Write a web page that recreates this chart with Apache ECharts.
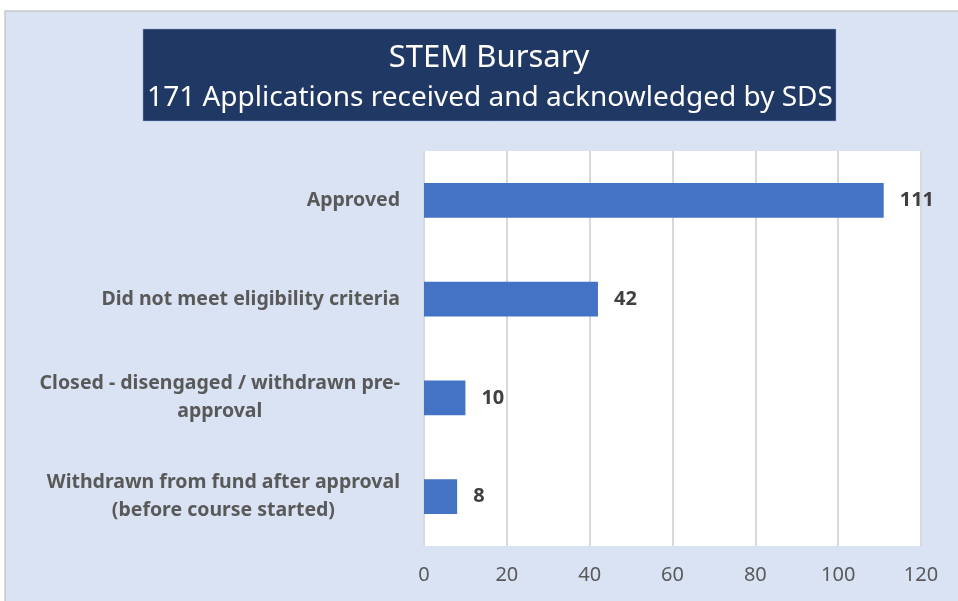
<!DOCTYPE html>
<html>
<head>
<meta charset="utf-8">
<script src="https://cdn.jsdelivr.net/npm/echarts@6/dist/echarts.min.js"></script>
<style>
  html, body { margin: 0; padding: 0; background: #fff; }
  #main { width: 958px; height: 601px; }
</style>
</head>
<body>
<div id="main"></div>
<script>
// categories from top to bottom as in the picture
var categories = [
  'Approved',
  'Did not meet eligibility criteria',
  'Closed - disengaged / withdrawn pre-\napproval',
  'Withdrawn from fund after approval\n(before course started)'
];
var counts = [111, 42, 10, 8];
var xTicks = [0, 20, 40, 60, 80, 100, 120];

var titleMain = 'STEM Bursary';
var titleSub = '171 Applications received and acknowledged by SDS';

var chart = echarts.init(document.getElementById('main'), null, { renderer: 'canvas' });
var font = 'Noto Sans';

var option = {
  backgroundColor: '#ffffff',
  animation: false,
  textStyle: { fontFamily: font },
  graphic: [
    {
      type: 'rect',
      z: -10,
      shape: { x: 5, y: 11, width: 970, height: 610 },
      style: { fill: '#dae3f3', stroke: '#c8c8c8', lineWidth: 1.5 }
    },
    {
      type: 'rect',
      z: -5,
      shape: { x: 143, y: 29, width: 693, height: 92 },
      style: { fill: '#203864', stroke: '#8faadc', lineWidth: 0.5 }
    },
    {
      type: 'text',
      x: 489, y: 58,
      style: {
        text: titleMain, fill: '#ffffff', font: '31px "' + font + '"',
        textAlign: 'center', textVerticalAlign: 'middle'
      }
    },
    {
      type: 'text',
      x: 490, y: 98,
      style: {
        text: titleSub, fill: '#ffffff', font: '28px "' + font + '"',
        textAlign: 'center', textVerticalAlign: 'middle'
      }
    }
  ],
  grid: {
    left: 424, right: 37, top: 151, bottom: 55,
    show: true, backgroundColor: '#ffffff', borderWidth: 0
  },
  xAxis: {
    type: 'value',
    min: 0, max: 120, interval: 20,
    axisLine: { show: false },
    axisTick: { show: false },
    splitLine: { show: true, lineStyle: { color: '#d9d9d9', width: 2 } },
    axisLabel: {
      color: '#595959', fontSize: 20, margin: 19,
      formatter: function (v) { return xTicks.indexOf(v) >= 0 ? String(v) : ''; }
    }
  },
  yAxis: {
    type: 'category',
    data: categories,
    inverse: true,
    axisLine: { show: false },
    axisTick: { show: false },
    axisLabel: {
      margin: 24,
      formatter: function (v) {
        return v.split('\n').map(function (s) { return '{c|' + s + '}'; }).join('\n');
      },
      rich: {
        c: { align: 'center', color: '#595959', fontSize: 19.5, fontWeight: 'bold', fontFamily: font, lineHeight: 28 }
      }
    }
  },
  series: [{
    type: 'bar',
    data: counts,
    barWidth: '35%',
    itemStyle: { color: '#4472c4' },
    label: {
      show: true, position: 'right', distance: 16,
      color: '#404040', fontSize: 20, fontWeight: 'bold', fontFamily: font
    }
  }]
};
chart.setOption(option);
</script>
</body>
</html>
